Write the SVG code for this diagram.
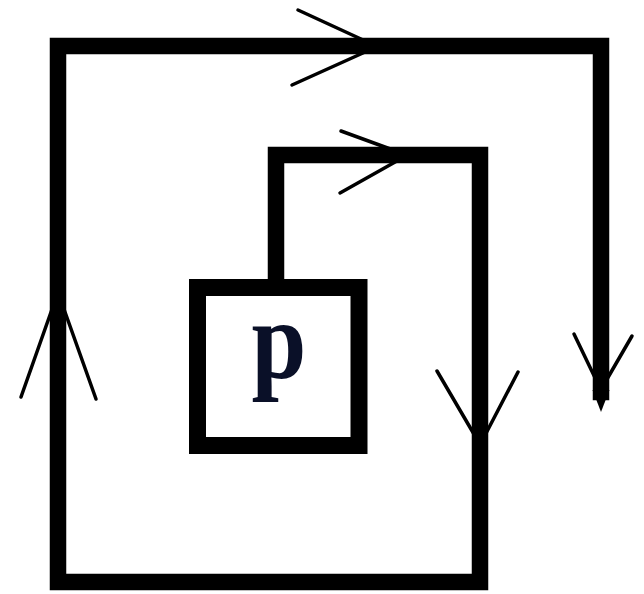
<svg xmlns="http://www.w3.org/2000/svg" width="644" height="594" viewBox="0 0 644 594">
<style>
.wire{fill:none;stroke:#000;stroke-width:16.5;stroke-linejoin:miter;stroke-linecap:square}
.head{fill:none;stroke:#000;stroke-width:3.5;stroke-linecap:round}
.box{fill:#fff;stroke:#000;stroke-width:17}
.lbl{font-family:"Liberation Serif","Times New Roman",serif;font-weight:bold;font-size:112px;fill:#0a1028}
</style>
<rect width="644" height="594" fill="#fff"/>
<g id="connectors">
<path class="wire" d="M276 288 V155 H480 V582 H58 V46 H601 V392"/>
<polygon points="592.5,390 609.5,390 601,412" fill="#000"/>
<path class="head" d="M298 10 L374 45 M292 85 L374 48"/>
<path class="head" d="M341 131 L404 154 M340 193 L404 157"/>
<path class="head" d="M574 334 L599 386 M632 336 L603 386"/>
<path class="head" d="M437 371 L478 441 M518 372 L482 441"/>
<path class="head" d="M21 397 L56 298 M96 399 L60 298"/>
</g>
<g id="node-p">
<rect class="box" x="197.5" y="287.5" width="161.5" height="158"/>
<text class="lbl" text-anchor="middle" transform="translate(279 378) scale(0.88 1)" x="0" y="0">p</text>
</g>
</svg>
